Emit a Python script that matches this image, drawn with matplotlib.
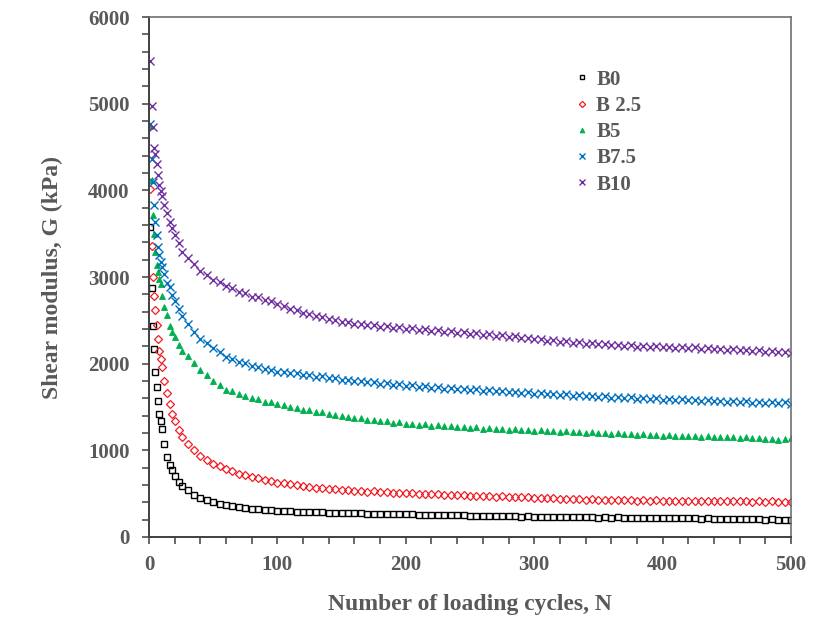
import numpy as np
import matplotlib.pyplot as plt
from matplotlib.ticker import MultipleLocator

# numero de ciclos (N)
ciclos = ([1, 2, 3, 4, 5, 6, 7, 8, 9, 10, 12, 14, 16, 18, 20, 23, 26, 30]
          + list(range(35, 501, 5)))

# B0
g_b0 = [3580, 2870, 2430, 2170, 1900, 1735, 1570, 1420, 1340, 1245, 1075, 925, 830, 770, 705, 640, 590, 540,
        488, 452, 428, 402, 385, 368, 352, 342, 335, 326, 318, 313, 308, 303,
        301, 296, 294, 289, 290, 284, 286, 280, 281, 276, 278, 272, 274, 269, 270, 265, 267, 263, 264, 260,
        262, 257, 258, 254, 255, 251, 253, 248, 250, 246, 247, 243, 245, 241, 242, 238, 240, 235, 237, 233,
        235, 230, 233, 229, 231, 227, 230, 226, 228, 224, 227, 223, 226, 222, 224, 221, 223, 219, 222, 218,
        221, 216, 218, 214, 216, 212, 214, 209, 211, 207, 209, 205, 207, 203, 205, 201, 202, 198, 200, 196]

# B 2.5
g_b25 = [4020, 3360, 3000, 2780, 2620, 2450, 2280, 2150, 2050, 1960, 1800, 1660, 1530, 1420, 1340, 1240, 1150, 1075,
         998, 936, 893, 846, 818, 779, 761, 731, 715, 689, 678, 656, 648, 627,
         623, 606, 597, 583, 580, 567, 565, 554, 553, 542, 543, 533, 534, 524, 526, 516, 518, 508, 510, 502,
         504, 497, 498, 491, 493, 486, 488, 481, 483, 476, 478, 471, 473, 466, 468, 461, 463, 456, 457, 450,
         452, 445, 447, 440, 442, 435, 437, 431, 433, 427, 429, 424, 427, 422, 425, 420, 423, 418, 421, 416,
         420, 415, 419, 414, 418, 413, 417, 412, 415, 411, 414, 410, 413, 408, 412, 407, 411, 406, 409, 404]

# B5
g_b5 = [4740, 4120, 3710, 3500, 3290, 3140, 3060, 2980, 2920, 2780, 2650, 2560, 2440, 2370, 2310, 2220, 2150, 2090,
        2004, 1922, 1865, 1796, 1755, 1700, 1680, 1645, 1630, 1600, 1590, 1560, 1555, 1530,
        1522, 1496, 1490, 1468, 1463, 1440, 1437, 1415, 1413, 1392, 1390, 1370, 1371, 1352, 1354, 1336, 1338, 1320, 1322, 1306,
        1309, 1296, 1300, 1285, 1290, 1276, 1281, 1267, 1273, 1259, 1265, 1251, 1257, 1244, 1251, 1238, 1245, 1232, 1239, 1228,
        1234, 1222, 1228, 1215, 1222, 1209, 1216, 1203, 1210, 1197, 1204, 1191, 1198, 1185, 1192, 1179, 1186, 1173, 1180, 1168,
        1174, 1164, 1170, 1160, 1166, 1156, 1162, 1152, 1158, 1148, 1154, 1144, 1150, 1140, 1146, 1134, 1128, 1120, 1130, 1140]

# B7.5
g_b75 = [4760, 4360, 4100, 3830, 3640, 3490, 3350, 3250, 3170, 3120, 3030, 2930, 2880, 2790, 2720, 2630, 2550, 2460,
         2364, 2285, 2240, 2175, 2135, 2080, 2055, 2015, 2005, 1975, 1965, 1935, 1930, 1905,
         1905, 1888, 1890, 1871, 1872, 1851, 1852, 1831, 1833, 1813, 1816, 1797, 1801, 1783, 1787, 1770, 1774, 1757, 1762, 1745,
         1749, 1733, 1738, 1722, 1728, 1712, 1718, 1703, 1710, 1695, 1702, 1687, 1694, 1679, 1686, 1671, 1678, 1663, 1670, 1655,
         1661, 1647, 1654, 1639, 1646, 1631, 1638, 1623, 1630, 1615, 1623, 1609, 1617, 1603, 1611, 1597, 1605, 1591, 1598, 1585,
         1593, 1580, 1589, 1575, 1584, 1570, 1579, 1565, 1574, 1560, 1569, 1555, 1564, 1551, 1560, 1547, 1556, 1543, 1552, 1540]

# B10
g_b10 = [5490, 4970, 4730, 4490, 4420, 4300, 4180, 4060, 3990, 3930, 3830, 3735, 3630, 3560, 3480, 3390, 3290, 3220,
         3145, 3075, 3026, 2970, 2940, 2895, 2870, 2830, 2810, 2775, 2765, 2735, 2720, 2685,
         2670, 2635, 2621, 2585, 2576, 2546, 2541, 2512, 2508, 2482, 2482, 2460, 2462, 2441, 2445, 2426, 2431, 2413, 2420, 2404,
         2409, 2393, 2398, 2381, 2386, 2369, 2374, 2357, 2362, 2345, 2350, 2333, 2338, 2321, 2326, 2309, 2314, 2297, 2300, 2280,
         2283, 2267, 2272, 2255, 2260, 2243, 2248, 2232, 2238, 2222, 2228, 2213, 2220, 2205, 2212, 2198, 2206, 2193, 2202, 2190,
         2197, 2185, 2193, 2179, 2187, 2173, 2181, 2167, 2174, 2160, 2168, 2154, 2162, 2147, 2155, 2140, 2147, 2132, 2138, 2122]

series = [
    ("B0", g_b0, dict(marker="s", mfc="none", mec="black", ms=5, mew=1.0)),
    ("B 2.5", g_b25, dict(marker="D", mfc="none", mec="#ee1c25", ms=4.5, mew=0.9)),
    ("B5", g_b5, dict(marker="^", mfc="#00b050", mec="#00b050", ms=5, mew=0.6)),
    ("B7.5", g_b75, dict(marker="x", mfc="none", mec="#0070c0", ms=6, mew=1.0)),
    ("B10", g_b10, dict(marker="x", mfc="none", mec="#7030a0", ms=6, mew=1.0)),
]

cinza = "#595959"
plt.rcParams["font.family"] = "Liberation Serif"
plt.rcParams["font.weight"] = "bold"

fig = plt.figure(figsize=(8.25, 6.19), dpi=100)
ax = fig.add_axes([0.1806, 0.1325, 0.7782, 0.84])

for nome, valores, estilo in series:
    ax.plot(ciclos, valores, linestyle="none", label=nome, **estilo)

ax.set_xlim(0, 500)
ax.set_ylim(0, 6000)
ax.xaxis.set_major_locator(MultipleLocator(100))
ax.xaxis.set_minor_locator(MultipleLocator(20))
ax.yaxis.set_major_locator(MultipleLocator(1000))
ax.yaxis.set_minor_locator(MultipleLocator(200))
ax.tick_params(which="both", direction="out", length=5, width=1.1, color="#404040",
               labelsize=15, labelcolor=cinza, top=False, right=False)
ax.tick_params(axis="x", pad=8)
ax.tick_params(axis="y", pad=9)
for lado in ["left", "bottom"]:
    ax.spines[lado].set_color("#404040")
    ax.spines[lado].set_linewidth(1.4)
for lado in ["top", "right"]:
    ax.spines[lado].set_color("#707070")
    ax.spines[lado].set_linewidth(1.2)

ax.set_xlabel("Number of loading cycles, N", fontsize=17, color=cinza, fontweight="bold", labelpad=14)
ax.set_ylabel("Shear modulus, G (kPa)", fontsize=17, color=cinza, fontweight="bold", labelpad=18)

leg = ax.legend(loc="upper left", bbox_to_anchor=(0.635, 0.935), frameon=False, fontsize=15,
                handlelength=0.6, handletextpad=0.4, labelspacing=0.3, markerscale=0.7)
for t in leg.get_texts():
    t.set_color(cinza)

fig.savefig("out.png", dpi=100)
